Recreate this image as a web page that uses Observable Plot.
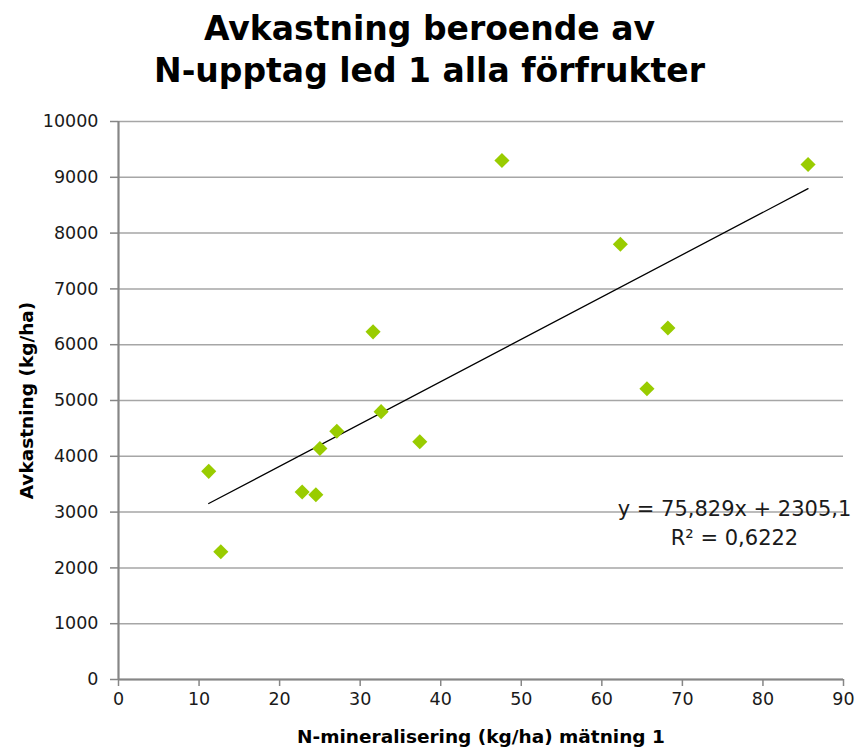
<!DOCTYPE html>
<html>
<head>
<meta charset="utf-8">
<script src="https://cdn.jsdelivr.net/npm/d3@7"></script>
<script src="https://cdn.jsdelivr.net/npm/@observablehq/plot@0.6"></script>
<style>
  body { margin: 0; background: #fff; }
  #wrap { width: 859px; height: 749px; position: relative; overflow: hidden; }
  #title { position: absolute; left: 0; top: 8px; width: 859px; text-align: center;
    font-family: "DejaVu Sans", sans-serif; font-weight: bold; font-size: 33px; line-height: 42px; color: #000; }
  #chart { position: absolute; left: 0; top: 100px; }
</style>
</head>
<body>
<div id="wrap">
  <div id="title">Avkastning beroende av<br>N-upptag led 1 alla förfrukter</div>
  <div id="chart"></div>
</div>
<script>
const nMin = [11.2, 12.7, 22.8, 24.5, 25.0, 27.1, 31.6, 32.6, 37.4, 47.6, 62.3, 65.6, 68.2, 85.6];
const yieldKg = [3730, 2290, 3360, 3310, 4140, 4450, 6230, 4800, 4260, 9300, 7800, 5210, 6300, 9230];
const xTicks = [0, 10, 20, 30, 40, 50, 60, 70, 80, 90];
const yTicks = [0, 1000, 2000, 3000, 4000, 5000, 6000, 7000, 8000, 9000, 10000];
const slope = 75.829, intercept = 2305.1;
const eqLabel = "y = 75,829x + 2305,1\nR² = 0,6222";
const xLabel = "N-mineralisering (kg/ha) mätning 1";
const yLabel = "Avkastning (kg/ha)";

const points = nMin.map((x, i) => ({x, y: yieldKg[i]}));
const xExt = d3.extent(nMin);
const trend = xExt.map(x => ({x, y: slope * x + intercept}));

const chart = Plot.plot({
  width: 859,
  height: 649,
  marginLeft: 118,
  marginRight: 16,
  marginTop: 21,
  marginBottom: 70,
  style: {fontFamily: "'DejaVu Sans', sans-serif", background: "#fff", overflow: "visible"},
  x: {domain: [0, 90]},
  y: {domain: [0, 10000]},
  marks: [
    Plot.ruleY(yTicks, {stroke: "#a6a6a6", strokeWidth: 1.5}),
    Plot.axisY(yTicks, {tickSize: 8, tickPadding: 12, stroke: "#868686", strokeWidth: 1.5, fontSize: 17.5, fill: "#1a1a1a", label: null, tickFormat: d => String(d)}),
    Plot.axisX(xTicks, {tickSize: 7, tickPadding: 6, stroke: "#868686", strokeWidth: 1.5, fontSize: 17.5, fill: "#1a1a1a", label: null}),
    Plot.ruleX([0], {stroke: "#868686", strokeWidth: 2.2}),
    Plot.ruleY([0], {stroke: "#868686", strokeWidth: 2.2}),
    Plot.line(trend, {x: "x", y: "y", stroke: "#000", strokeWidth: 1.3}),
    Plot.dot(points, {x: "x", y: "y", symbol: "diamond2", r: 6.8, fill: "#99cc00", stroke: "none"}),
    Plot.text([eqLabel], {frameAnchor: "right", dx: -109, dy: 121, textAnchor: "middle", lineAnchor: "middle", lineHeight: 1.35, fontSize: 21, fill: "#1a1a1a"}),
    Plot.text([xLabel], {frameAnchor: "bottom", dy: 63, lineAnchor: "bottom", fontSize: 18.5, fontWeight: "bold", fill: "#000"}),
    Plot.text([yLabel], {frameAnchor: "left", dx: -91, rotate: -90, textAnchor: "middle", lineAnchor: "middle", fontSize: 18.5, fontWeight: "bold", fill: "#000"})
  ]
});
document.getElementById("chart").appendChild(chart);
</script>
</body>
</html>
